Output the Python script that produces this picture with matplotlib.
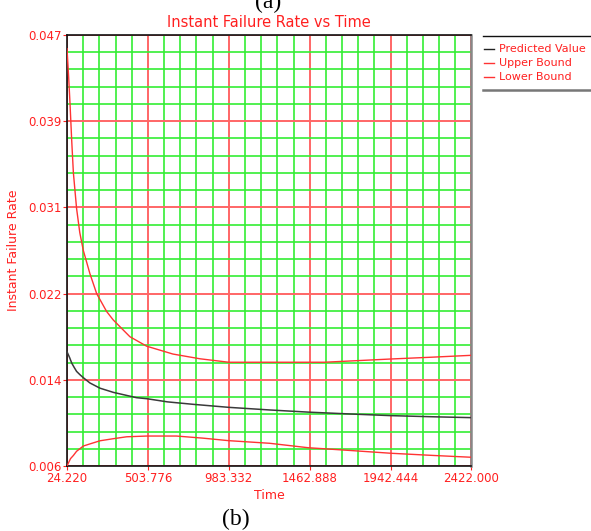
import matplotlib
matplotlib.use('Agg')
import matplotlib.pyplot as plt
import numpy as np
from matplotlib.lines import Line2D

# values
t_pred = [24.22, 40, 52, 66, 81, 100, 121, 160, 220, 300, 436, 498, 620, 770,
          983, 1226, 1460, 1700, 1946, 2200, 2422]
pred = [0.01687, 0.0163, 0.0158, 0.0154, 0.0150, 0.0147, 0.0144, 0.0139,
        0.0134, 0.0130, 0.0125, 0.0124, 0.0121, 0.01187, 0.01158, 0.01133,
        0.01112, 0.01095, 0.01079, 0.01068, 0.0106]

t_upper = [24.22, 34, 42, 52, 62, 81, 100, 121, 160, 200, 259, 298, 397,
           496, 652, 812, 983, 1550, 1946, 2200, 2422]
upper = [0.0457, 0.0430, 0.0405, 0.0370, 0.0339, 0.0305, 0.0282, 0.0265,
         0.0243, 0.0224, 0.0207, 0.0199, 0.0183, 0.01740, 0.01665, 0.0162,
         0.01587, 0.01587, 0.01618, 0.01636, 0.01653]

t_lower = [24.22, 33, 45, 62, 81, 121, 160, 220, 300, 378, 498, 673, 830,
           983, 1226, 1453, 1700, 1946, 2200, 2422]
lower = [0.0060, 0.0063, 0.0067, 0.0070, 0.0074, 0.0079, 0.0081, 0.0084,
         0.0086, 0.00878, 0.00885, 0.00885, 0.00865, 0.00841, 0.00816,
         0.00774, 0.00748, 0.00721, 0.00700, 0.00683]

x_min, x_max = 24.220, 2422.000
y_min, y_max = 0.006, 0.047
x_ticklabels = ['24.220', '503.776', '983.332', '1462.888', '1942.444', '2422.000']
y_ticklabels = ['0.006', '0.014', '0.022', '0.031', '0.039', '0.047']

red = '#ff2020'
fig = plt.figure(figsize=(5.91, 5.31), dpi=100)
ax = fig.add_axes([67 / 591, 65 / 531, 404.5 / 591, 431 / 531])

ax.plot(t_upper, upper, color='#ff3333', lw=1.0, zorder=3)
ax.plot(t_lower, lower, color='#ff3333', lw=1.0, zorder=3)
ax.plot(t_pred, pred, color='#3a3a3a', lw=1.1, zorder=4)

ax.set_xlim(x_min, x_max)
ax.set_ylim(y_min, y_max)
xt = np.linspace(x_min, x_max, 6)
yt = np.linspace(y_min, y_max, 6)
ax.set_xticks(xt)
ax.set_xticklabels(x_ticklabels)
ax.set_yticks(yt)
ax.set_yticklabels(y_ticklabels)
ax.set_xticks(np.linspace(x_min, x_max, 26), minor=True)
ax.set_yticks(np.linspace(y_min, y_max, 26), minor=True)

ax.grid(which='minor', color='#33ee33', lw=1.2, zorder=1)
ax.grid(which='major', color='#ff6666', lw=1.4, zorder=2)
ax.set_axisbelow(True)

ax.tick_params(which='major', direction='out', length=3, color=red,
               labelcolor=red, labelsize=8.5, pad=1)
ax.tick_params(which='minor', length=0)

for s in ['left', 'bottom', 'top']:
    ax.spines[s].set_color('#111111')
    ax.spines[s].set_linewidth(1.2)
ax.spines['right'].set_color('#888888')
ax.spines['right'].set_linewidth(1.8)

ax.set_title('Instant Failure Rate vs Time', color=red, fontsize=10.5, pad=6)
ax.set_xlabel('Time', color=red, fontsize=9, labelpad=3)
ax.set_ylabel('Instant Failure Rate', color=red, fontsize=9, labelpad=6)

# legend block on the right
fig.add_artist(Line2D([483 / 591, 1.0], [1 - 36 / 531] * 2, color='#111111', lw=1.0))
fig.add_artist(Line2D([483 / 591, 1.0], [1 - 90 / 531] * 2, color='#777777', lw=1.8))
entries = [('Predicted Value', '#222222', 49), ('Upper Bound', '#ff3333', 63),
           ('Lower Bound', '#ff3333', 77)]
for name, c, yy in entries:
    fig.add_artist(Line2D([484 / 591, 494 / 591], [1 - yy / 531] * 2, color=c, lw=1.0))
    fig.text(499 / 591, 1 - yy / 531, name, color=red, fontsize=8, va='center')

fig.text(268 / 591, 1 - 2 / 531, '(a)', family='Liberation Serif', fontsize=17,
         ha='center', va='center')
fig.text(236 / 591, 1 - 519 / 531, '(b)', family='Liberation Serif', fontsize=17,
         ha='center', va='center')

fig.savefig('out.png', dpi=100)
